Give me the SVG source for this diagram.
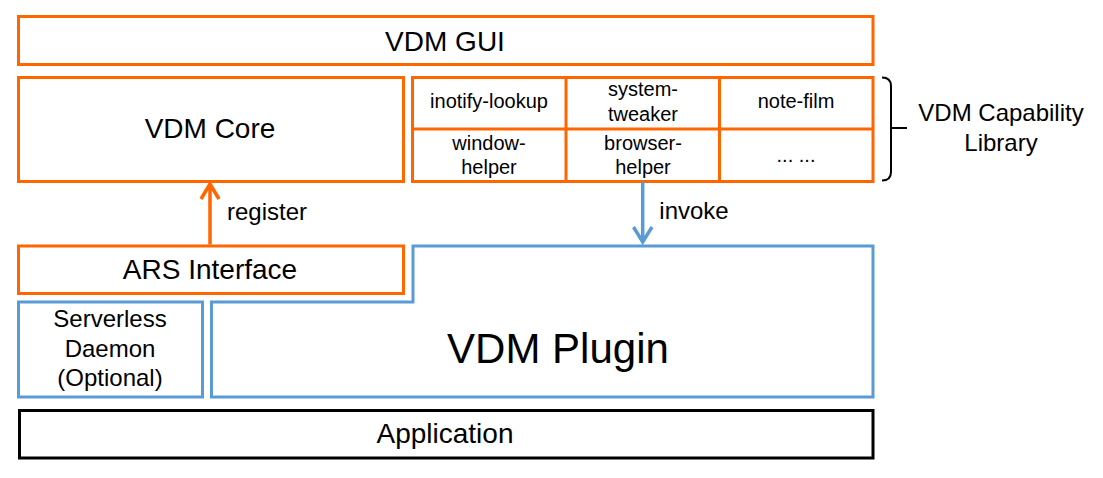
<svg xmlns="http://www.w3.org/2000/svg" width="1103" height="478" viewBox="0 0 1103 478">
<style>
.o{fill:#fff;stroke:#FF6600;stroke-width:3}
.b{fill:#fff;stroke:#5B9BD5;stroke-width:3}
.k{fill:#fff;stroke:#000;stroke-width:3}
.ol{fill:none;stroke:#FF6600;stroke-width:3}
text{font-family:"Liberation Sans",Arial,sans-serif;fill:#000;text-anchor:middle}
.L{font-size:28px}
.M{font-size:24px}
.S{font-size:20px}
.X{font-size:42px}
</style>
<rect width="1103" height="478" fill="#fff"/>
<g id="vdm-gui"><rect class="o" x="18.5" y="16.5" width="854.5" height="48"/><text class="L" x="445" y="51">VDM GUI</text></g>
<g id="vdm-core"><rect class="o" x="18.5" y="77.5" width="385" height="104"/><text class="L" x="210" y="138">VDM Core</text></g>
<g id="capability-library">
<rect class="o" x="412.5" y="77.5" width="460.5" height="104"/>
<path class="ol" d="M412.5,129H873M566,77.5V181.5M719.5,77.5V181.5"/>
<text class="S" x="489" y="108">inotify-lookup</text>
<text class="S" x="643" y="96">system-</text><text class="S" x="643" y="121">tweaker</text>
<text class="S" x="796" y="108">note-film</text>
<text class="S" x="489" y="150">window-</text><text class="S" x="489" y="174">helper</text>
<text class="S" x="643" y="150">browser-</text><text class="S" x="643" y="174">helper</text>
<text class="S" x="796" y="162">... ...</text>
</g>
<g id="capability-brace">
<path d="M882,77.5Q891,77.5 891,86V172Q891,180.5 882,180.5M891,128H907" fill="none" stroke="#000" stroke-width="2"/>
<text class="M" x="1001" y="121">VDM Capability</text><text class="M" x="1001" y="151">Library</text>
</g>
<g id="ars-interface"><rect class="o" x="18.5" y="246" width="385" height="47.5"/><text class="L" x="210" y="279">ARS Interface</text></g>
<g id="serverless-daemon"><rect class="b" x="18.5" y="302" width="184" height="95"/>
<text class="M" x="110" y="327">Serverless</text><text class="M" x="110" y="357">Daemon</text><text class="M" x="110" y="386">(Optional)</text></g>
<g id="vdm-plugin"><path class="b" d="M413,246H873V397H211.5V302H413Z"/><text class="X" x="558" y="363">VDM Plugin</text></g>
<g id="application"><rect class="k" x="19.5" y="410.5" width="853.5" height="47.5"/><text class="L" x="445" y="443">Application</text></g>
<g id="connectors">
<path d="M210,244.5V184M201,199L210,184L219,199" fill="none" stroke="#FF6600" stroke-width="3.5"/>
<text class="M" x="267" y="220">register</text>
<path d="M642.7,181.5V242M633.5,227L642.7,242L652,227" fill="none" stroke="#5B9BD5" stroke-width="3.5"/>
<text class="M" x="694" y="219">invoke</text>
</g>
</svg>
